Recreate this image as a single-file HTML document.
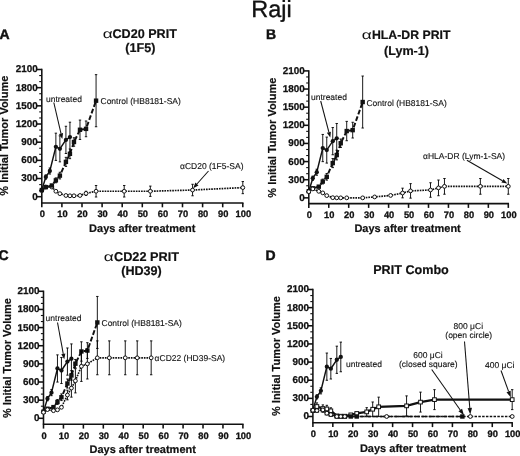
<!DOCTYPE html>
<html lang="en">
<head>
<meta charset="utf-8">
<title>Raji</title>
<style>
html,body{margin:0;padding:0;background:#fff;}
body{width:520px;height:456px;overflow:hidden;font-family:"Liberation Sans", sans-serif;}
svg{display:block;will-change:transform;transform:translateZ(0);}
text{font-family:"Liberation Sans", sans-serif;fill:#111;}
.ax{stroke:#111;stroke-width:1.55;fill:none;}
.mt{stroke:#111;stroke-width:1.1;fill:none;}
.eb{stroke:#000;stroke-width:0.9;fill:none;}
.tk{font-size:9.9px;font-weight:bold;stroke:#111;stroke-width:0.25px;}
.tkx{font-size:9.3px;font-weight:bold;stroke:#111;stroke-width:0.3px;}
.al{font-size:11px;font-weight:bold;stroke:#111;stroke-width:0.2px;}
.an{font-size:8.5px;stroke:#111;stroke-width:0.12px;}
.tt{font-size:12.6px;font-weight:bold;stroke:#111;stroke-width:0.2px;}
.ta{font-size:12.6px;}
.pl{font-size:14px;font-weight:bold;stroke:#111;stroke-width:0.45px;}
.main{font-size:23.5px;stroke:#111;stroke-width:0.35px;}
</style>
</head>
<body>
<svg width="520" height="456" viewBox="0 0 520 456">
<rect width="520" height="456" fill="#fff"/>
<path d="M41.8 68.8V203" class="ax"/>
<path d="M36.6 196.7H41.8" class="ax"/>
<text transform="translate(37.8 199.65) skewX(0.05)" class="tk" text-anchor="end">0</text>
<path d="M39.2 190.64H41.8" class="mt"/>
<path d="M39.2 184.59H41.8" class="mt"/>
<path d="M36.6 178.53H41.8" class="ax"/>
<text transform="translate(37.8 181.48) skewX(0.05)" class="tk" text-anchor="end">300</text>
<path d="M39.2 172.47H41.8" class="mt"/>
<path d="M39.2 166.41H41.8" class="mt"/>
<path d="M36.6 160.36H41.8" class="ax"/>
<text transform="translate(37.8 163.31) skewX(0.05)" class="tk" text-anchor="end">600</text>
<path d="M39.2 154.3H41.8" class="mt"/>
<path d="M39.2 148.24H41.8" class="mt"/>
<path d="M36.6 142.19H41.8" class="ax"/>
<text transform="translate(37.8 145.14) skewX(0.05)" class="tk" text-anchor="end">900</text>
<path d="M39.2 136.13H41.8" class="mt"/>
<path d="M39.2 130.07H41.8" class="mt"/>
<path d="M36.6 124.01H41.8" class="ax"/>
<text transform="translate(37.8 126.96) skewX(0.05)" class="tk" text-anchor="end">1200</text>
<path d="M39.2 117.96H41.8" class="mt"/>
<path d="M39.2 111.9H41.8" class="mt"/>
<path d="M36.6 105.84H41.8" class="ax"/>
<text transform="translate(37.8 108.79) skewX(0.05)" class="tk" text-anchor="end">1500</text>
<path d="M39.2 99.79H41.8" class="mt"/>
<path d="M39.2 93.73H41.8" class="mt"/>
<path d="M36.6 87.67H41.8" class="ax"/>
<text transform="translate(37.8 90.62) skewX(0.05)" class="tk" text-anchor="end">1800</text>
<path d="M39.2 81.61H41.8" class="mt"/>
<path d="M39.2 75.56H41.8" class="mt"/>
<path d="M36.6 69.5H41.8" class="ax"/>
<text transform="translate(37.8 72.45) skewX(0.05)" class="tk" text-anchor="end">2100</text>
<path d="M41.1 203H243.5" class="ax"/>
<path d="M41.8 203V207.3" class="ax"/>
<text transform="translate(42.3 216.8) skewX(0.05)" class="tkx" text-anchor="middle">0</text>
<path d="M61.9 203V207.3" class="ax"/>
<text transform="translate(62.4 216.8) skewX(0.05)" class="tkx" text-anchor="middle">10</text>
<path d="M82 203V207.3" class="ax"/>
<text transform="translate(82.5 216.8) skewX(0.05)" class="tkx" text-anchor="middle">20</text>
<path d="M102.1 203V207.3" class="ax"/>
<text transform="translate(102.6 216.8) skewX(0.05)" class="tkx" text-anchor="middle">30</text>
<path d="M122.2 203V207.3" class="ax"/>
<text transform="translate(122.7 216.8) skewX(0.05)" class="tkx" text-anchor="middle">40</text>
<path d="M142.3 203V207.3" class="ax"/>
<text transform="translate(142.8 216.8) skewX(0.05)" class="tkx" text-anchor="middle">50</text>
<path d="M162.4 203V207.3" class="ax"/>
<text transform="translate(162.9 216.8) skewX(0.05)" class="tkx" text-anchor="middle">60</text>
<path d="M182.5 203V207.3" class="ax"/>
<text transform="translate(183 216.8) skewX(0.05)" class="tkx" text-anchor="middle">70</text>
<path d="M202.6 203V207.3" class="ax"/>
<text transform="translate(203.1 216.8) skewX(0.05)" class="tkx" text-anchor="middle">80</text>
<path d="M222.7 203V207.3" class="ax"/>
<text transform="translate(223.2 216.8) skewX(0.05)" class="tkx" text-anchor="middle">90</text>
<path d="M242.8 203V207.3" class="ax"/>
<text transform="translate(243.3 216.8) skewX(0.05)" class="tkx" text-anchor="middle">100</text>
<text transform="translate(142.3 231.5) skewX(0.05)" class="al" text-anchor="middle">Days after treatment</text>
<text transform="translate(8.2 135.7) rotate(-90)" class="al" text-anchor="middle">% Initial Tumor Volume</text>
<path d="M41.8 190.64L45.82 187.01L51.85 187.01L55.87 191.25L59.89 193.67L65.92 195.49L69.94 195.79L73.96 195.79L79.99 195.49L86.02 193.37L96.07 191.25L124.21 191.25L150.34 191.25L192.55 190.04L242.8 187.61" fill="none" stroke="#111" stroke-width="1.65" stroke-dasharray="1.65 0.95"/>
<path d="M86.02 191.25V195.49M84.82 191.25h2.4M84.82 195.49h2.4" class="eb"/>
<path d="M96.07 185.49V197M94.87 185.49h2.4M94.87 197h2.4" class="eb"/>
<path d="M124.21 185.49V197M123.01 185.49h2.4M123.01 197h2.4" class="eb"/>
<path d="M150.34 186.1V196.4M149.14 186.1h2.4M149.14 196.4h2.4" class="eb"/>
<path d="M192.55 184.28V195.79M191.35 184.28h2.4M191.35 195.79h2.4" class="eb"/>
<path d="M242.8 181.56V193.67M241.6 181.56h2.4M241.6 193.67h2.4" class="eb"/>
<circle cx="41.8" cy="190.64" r="1.9" fill="#fff" stroke="#111" stroke-width="1.0"/>
<circle cx="45.82" cy="187.01" r="1.9" fill="#fff" stroke="#111" stroke-width="1.0"/>
<circle cx="51.85" cy="187.01" r="1.9" fill="#fff" stroke="#111" stroke-width="1.0"/>
<circle cx="55.87" cy="191.25" r="1.9" fill="#fff" stroke="#111" stroke-width="1.0"/>
<circle cx="59.89" cy="193.67" r="1.9" fill="#fff" stroke="#111" stroke-width="1.0"/>
<circle cx="65.92" cy="195.49" r="1.9" fill="#fff" stroke="#111" stroke-width="1.0"/>
<circle cx="69.94" cy="195.79" r="1.9" fill="#fff" stroke="#111" stroke-width="1.0"/>
<circle cx="73.96" cy="195.79" r="1.9" fill="#fff" stroke="#111" stroke-width="1.0"/>
<circle cx="79.99" cy="195.49" r="1.9" fill="#fff" stroke="#111" stroke-width="1.0"/>
<circle cx="86.02" cy="193.37" r="1.9" fill="#fff" stroke="#111" stroke-width="1.0"/>
<circle cx="96.07" cy="191.25" r="1.9" fill="#fff" stroke="#111" stroke-width="1.0"/>
<circle cx="124.21" cy="191.25" r="1.9" fill="#fff" stroke="#111" stroke-width="1.0"/>
<circle cx="150.34" cy="191.25" r="1.9" fill="#fff" stroke="#111" stroke-width="1.0"/>
<circle cx="192.55" cy="190.04" r="1.9" fill="#fff" stroke="#111" stroke-width="1.0"/>
<circle cx="242.8" cy="187.61" r="1.9" fill="#fff" stroke="#111" stroke-width="1.0"/>
<path d="M41.8 190.04L45.82 187.13L51.85 185.49L55.87 180.35L59.89 175.62L65.92 161.87L69.94 153.82L73.96 142L79.99 129.77L86.02 128.86L96.07 100.69" fill="none" stroke="#111" stroke-width="1.95" stroke-dasharray="4.8 2.1"/>
<path d="M55.87 177.92V182.77M54.67 177.92h2.4M54.67 182.77h2.4" class="eb"/>
<path d="M59.89 172.29V178.95M58.69 172.29h2.4M58.69 178.95h2.4" class="eb"/>
<path d="M65.92 157.33V166.41M64.72 157.33h2.4M64.72 166.41h2.4" class="eb"/>
<path d="M69.94 148.97V158.66M68.74 148.97h2.4M68.74 158.66h2.4" class="eb"/>
<path d="M73.96 137.76V146.24M72.76 137.76h2.4M72.76 146.24h2.4" class="eb"/>
<path d="M79.99 120.08V139.46M78.79 120.08h2.4M78.79 139.46h2.4" class="eb"/>
<path d="M86.02 120.99V136.73M84.82 120.99h2.4M84.82 136.73h2.4" class="eb"/>
<path d="M96.07 74.65V126.74M94.87 74.65h2.4M94.87 126.74h2.4" class="eb"/>
<rect x="39.6" y="187.84" width="4.4" height="4.4" fill="#111"/>
<rect x="43.62" y="184.93" width="4.4" height="4.4" fill="#111"/>
<rect x="49.65" y="183.29" width="4.4" height="4.4" fill="#111"/>
<rect x="53.67" y="178.15" width="4.4" height="4.4" fill="#111"/>
<rect x="57.69" y="173.42" width="4.4" height="4.4" fill="#111"/>
<rect x="63.72" y="159.67" width="4.4" height="4.4" fill="#111"/>
<rect x="67.74" y="151.62" width="4.4" height="4.4" fill="#111"/>
<rect x="71.76" y="139.8" width="4.4" height="4.4" fill="#111"/>
<rect x="77.79" y="127.57" width="4.4" height="4.4" fill="#111"/>
<rect x="83.82" y="126.66" width="4.4" height="4.4" fill="#111"/>
<rect x="93.87" y="98.49" width="4.4" height="4.4" fill="#111"/>
<path d="M41.8 190.04L45.82 177.01L49.84 171.02L55.87 146.79L59.89 148.85L65.92 139.88L69.94 137.04" fill="none" stroke="#111" stroke-width="1.45"/>
<path d="M45.82 174.89V179.13M44.62 174.89h2.4M44.62 179.13h2.4" class="eb"/>
<path d="M49.84 167.99V174.05M48.64 167.99h2.4M48.64 174.05h2.4" class="eb"/>
<path d="M55.87 133.16V160.42M54.67 133.16h2.4M54.67 160.42h2.4" class="eb"/>
<path d="M59.89 135.83V161.87M58.69 135.83h2.4M58.69 161.87h2.4" class="eb"/>
<path d="M65.92 126.26V153.51M64.72 126.26h2.4M64.72 153.51h2.4" class="eb"/>
<path d="M69.94 122.2V151.88M68.74 122.2h2.4M68.74 151.88h2.4" class="eb"/>
<circle cx="41.8" cy="190.04" r="2.15" fill="#111"/>
<circle cx="45.82" cy="177.01" r="2.15" fill="#111"/>
<circle cx="49.84" cy="171.02" r="2.15" fill="#111"/>
<circle cx="55.87" cy="146.79" r="2.15" fill="#111"/>
<circle cx="59.89" cy="148.85" r="2.15" fill="#111"/>
<circle cx="65.92" cy="139.88" r="2.15" fill="#111"/>
<circle cx="69.94" cy="137.04" r="2.15" fill="#111"/>
<text transform="translate(46 101.5) skewX(0.05)" class="an">untreated</text>
<text transform="translate(100.5 103.5) skewX(0.05)" class="an">Control (HB8181-SA)</text>
<text transform="translate(180 168.5) skewX(0.05)" class="an">αCD20 (1F5-SA)</text>
<path d="M53.8 102.5L61.03 133.55" stroke="#111" stroke-width="1.05" fill="none"/>
<path d="M62.3 139L58.98 134.02L63.08 133.07Z" fill="#111"/>
<path d="M208.5 171L196.92 184.02" stroke="#111" stroke-width="1.05" fill="none"/>
<path d="M193.2 188.2L195.35 182.62L198.49 185.41Z" fill="#111"/>
<path d="M308.8 70.2V203.6" class="ax"/>
<path d="M303.6 197.85H308.8" class="ax"/>
<text transform="translate(304.8 200.8) skewX(0.05)" class="tk" text-anchor="end">0</text>
<path d="M306.2 191.8H308.8" class="mt"/>
<path d="M306.2 185.76H308.8" class="mt"/>
<path d="M303.6 179.71H308.8" class="ax"/>
<text transform="translate(304.8 182.66) skewX(0.05)" class="tk" text-anchor="end">300</text>
<path d="M306.2 173.67H308.8" class="mt"/>
<path d="M306.2 167.62H308.8" class="mt"/>
<path d="M303.6 161.58H308.8" class="ax"/>
<text transform="translate(304.8 164.53) skewX(0.05)" class="tk" text-anchor="end">600</text>
<path d="M306.2 155.53H308.8" class="mt"/>
<path d="M306.2 149.49H308.8" class="mt"/>
<path d="M303.6 143.44H308.8" class="ax"/>
<text transform="translate(304.8 146.39) skewX(0.05)" class="tk" text-anchor="end">900</text>
<path d="M306.2 137.4H308.8" class="mt"/>
<path d="M306.2 131.35H308.8" class="mt"/>
<path d="M303.6 125.31H308.8" class="ax"/>
<text transform="translate(304.8 128.26) skewX(0.05)" class="tk" text-anchor="end">1200</text>
<path d="M306.2 119.26H308.8" class="mt"/>
<path d="M306.2 113.22H308.8" class="mt"/>
<path d="M303.6 107.17H308.8" class="ax"/>
<text transform="translate(304.8 110.12) skewX(0.05)" class="tk" text-anchor="end">1500</text>
<path d="M306.2 101.13H308.8" class="mt"/>
<path d="M306.2 95.08H308.8" class="mt"/>
<path d="M303.6 89.04H308.8" class="ax"/>
<text transform="translate(304.8 91.99) skewX(0.05)" class="tk" text-anchor="end">1800</text>
<path d="M306.2 82.99H308.8" class="mt"/>
<path d="M306.2 76.95H308.8" class="mt"/>
<path d="M303.6 70.9H308.8" class="ax"/>
<text transform="translate(304.8 73.85) skewX(0.05)" class="tk" text-anchor="end">2100</text>
<path d="M308.1 203.6H509" class="ax"/>
<path d="M308.8 203.6V207.9" class="ax"/>
<text transform="translate(309.3 217.9) skewX(0.05)" class="tkx" text-anchor="middle">0</text>
<path d="M328.75 203.6V207.9" class="ax"/>
<text transform="translate(329.25 217.9) skewX(0.05)" class="tkx" text-anchor="middle">10</text>
<path d="M348.7 203.6V207.9" class="ax"/>
<text transform="translate(349.2 217.9) skewX(0.05)" class="tkx" text-anchor="middle">20</text>
<path d="M368.65 203.6V207.9" class="ax"/>
<text transform="translate(369.15 217.9) skewX(0.05)" class="tkx" text-anchor="middle">30</text>
<path d="M388.6 203.6V207.9" class="ax"/>
<text transform="translate(389.1 217.9) skewX(0.05)" class="tkx" text-anchor="middle">40</text>
<path d="M408.55 203.6V207.9" class="ax"/>
<text transform="translate(409.05 217.9) skewX(0.05)" class="tkx" text-anchor="middle">50</text>
<path d="M428.5 203.6V207.9" class="ax"/>
<text transform="translate(429 217.9) skewX(0.05)" class="tkx" text-anchor="middle">60</text>
<path d="M448.45 203.6V207.9" class="ax"/>
<text transform="translate(448.95 217.9) skewX(0.05)" class="tkx" text-anchor="middle">70</text>
<path d="M468.4 203.6V207.9" class="ax"/>
<text transform="translate(468.9 217.9) skewX(0.05)" class="tkx" text-anchor="middle">80</text>
<path d="M488.35 203.6V207.9" class="ax"/>
<text transform="translate(488.85 217.9) skewX(0.05)" class="tkx" text-anchor="middle">90</text>
<path d="M508.3 203.6V207.9" class="ax"/>
<text transform="translate(508.8 217.9) skewX(0.05)" class="tkx" text-anchor="middle">100</text>
<text transform="translate(407.6 232.3) skewX(0.05)" class="al" text-anchor="middle">Days after treatment</text>
<text transform="translate(276.1 137.7) rotate(-90)" class="al" text-anchor="middle">% Initial Tumor Volume</text>
<path d="M308.8 191.2L312.79 188.3L318.78 186.67L322.76 181.53L326.75 176.81L332.74 163.09L336.73 155.05L340.72 143.26L346.71 131.05L352.69 130.14L362.67 102.03" fill="none" stroke="#111" stroke-width="1.95" stroke-dasharray="4.8 2.1"/>
<path d="M322.76 179.11V183.95M321.56 179.11h2.4M321.56 183.95h2.4" class="eb"/>
<path d="M326.75 173.49V180.14M325.56 173.49h2.4M325.56 180.14h2.4" class="eb"/>
<path d="M332.74 158.56V167.62M331.54 158.56h2.4M331.54 167.62h2.4" class="eb"/>
<path d="M336.73 150.21V159.89M335.53 150.21h2.4M335.53 159.89h2.4" class="eb"/>
<path d="M340.72 139.03V147.49M339.52 139.03h2.4M339.52 147.49h2.4" class="eb"/>
<path d="M346.71 121.38V140.72M345.51 121.38h2.4M345.51 140.72h2.4" class="eb"/>
<path d="M352.69 122.28V138M351.49 122.28h2.4M351.49 138h2.4" class="eb"/>
<path d="M362.67 76.04V128.03M361.47 76.04h2.4M361.47 128.03h2.4" class="eb"/>
<rect x="306.6" y="189" width="4.4" height="4.4" fill="#111"/>
<rect x="310.59" y="186.1" width="4.4" height="4.4" fill="#111"/>
<rect x="316.58" y="184.47" width="4.4" height="4.4" fill="#111"/>
<rect x="320.56" y="179.33" width="4.4" height="4.4" fill="#111"/>
<rect x="324.56" y="174.61" width="4.4" height="4.4" fill="#111"/>
<rect x="330.54" y="160.89" width="4.4" height="4.4" fill="#111"/>
<rect x="334.53" y="152.85" width="4.4" height="4.4" fill="#111"/>
<rect x="338.52" y="141.06" width="4.4" height="4.4" fill="#111"/>
<rect x="344.51" y="128.85" width="4.4" height="4.4" fill="#111"/>
<rect x="350.49" y="127.94" width="4.4" height="4.4" fill="#111"/>
<rect x="360.47" y="99.83" width="4.4" height="4.4" fill="#111"/>
<path d="M308.8 191.2L312.79 178.2L316.78 172.22L322.76 148.04L326.75 150.09L332.74 141.15L336.73 138.3" fill="none" stroke="#111" stroke-width="1.45"/>
<path d="M312.79 176.09V180.32M311.59 176.09h2.4M311.59 180.32h2.4" class="eb"/>
<path d="M316.78 169.2V175.24M315.58 169.2h2.4M315.58 175.24h2.4" class="eb"/>
<path d="M322.76 134.44V161.64M321.56 134.44h2.4M321.56 161.64h2.4" class="eb"/>
<path d="M326.75 137.1V163.09M325.56 137.1h2.4M325.56 163.09h2.4" class="eb"/>
<path d="M332.74 127.54V154.75M331.54 127.54h2.4M331.54 154.75h2.4" class="eb"/>
<path d="M336.73 123.49V153.12M335.53 123.49h2.4M335.53 153.12h2.4" class="eb"/>
<circle cx="308.8" cy="191.2" r="2.15" fill="#111"/>
<circle cx="312.79" cy="178.2" r="2.15" fill="#111"/>
<circle cx="316.78" cy="172.22" r="2.15" fill="#111"/>
<circle cx="322.76" cy="148.04" r="2.15" fill="#111"/>
<circle cx="326.75" cy="150.09" r="2.15" fill="#111"/>
<circle cx="332.74" cy="141.15" r="2.15" fill="#111"/>
<circle cx="336.73" cy="138.3" r="2.15" fill="#111"/>
<path d="M308.8 191.68L312.79 188.9L318.78 191.32L322.76 192.89L326.75 195.61L332.74 197.67L336.73 197.85L340.72 197.85L346.71 197.85L362.67 197.85L374.63 196.94L390.6 195.43L402.56 193.01L410.55 190.9L430.5 189.99L438.48 187.88L444.46 186.36L480.37 186.36L508.3 186.36" fill="none" stroke="#111" stroke-width="1.65" stroke-dasharray="1.65 0.95"/>
<path d="M402.56 188.18V197.85M401.37 188.18h2.4M401.37 197.85h2.4" class="eb"/>
<path d="M410.55 183.64V198.15M409.35 183.64h2.4M409.35 198.15h2.4" class="eb"/>
<path d="M430.5 182.74V197.25M429.3 182.74h2.4M429.3 197.25h2.4" class="eb"/>
<path d="M438.48 180.02V195.73M437.28 180.02h2.4M437.28 195.73h2.4" class="eb"/>
<path d="M444.46 178.51V194.22M443.26 178.51h2.4M443.26 194.22h2.4" class="eb"/>
<path d="M480.37 178.51V194.22M479.17 178.51h2.4M479.17 194.22h2.4" class="eb"/>
<path d="M508.3 178.51V194.22M507.1 178.51h2.4M507.1 194.22h2.4" class="eb"/>
<circle cx="308.8" cy="191.68" r="1.9" fill="#fff" stroke="#111" stroke-width="1.0"/>
<circle cx="312.79" cy="188.9" r="1.9" fill="#fff" stroke="#111" stroke-width="1.0"/>
<circle cx="318.78" cy="191.32" r="1.9" fill="#fff" stroke="#111" stroke-width="1.0"/>
<circle cx="322.76" cy="192.89" r="1.9" fill="#fff" stroke="#111" stroke-width="1.0"/>
<circle cx="326.75" cy="195.61" r="1.9" fill="#fff" stroke="#111" stroke-width="1.0"/>
<circle cx="332.74" cy="197.67" r="1.9" fill="#fff" stroke="#111" stroke-width="1.0"/>
<circle cx="336.73" cy="197.85" r="1.9" fill="#fff" stroke="#111" stroke-width="1.0"/>
<circle cx="340.72" cy="197.85" r="1.9" fill="#fff" stroke="#111" stroke-width="1.0"/>
<circle cx="346.71" cy="197.85" r="1.9" fill="#fff" stroke="#111" stroke-width="1.0"/>
<circle cx="362.67" cy="197.85" r="1.9" fill="#fff" stroke="#111" stroke-width="1.0"/>
<circle cx="374.63" cy="196.94" r="1.9" fill="#fff" stroke="#111" stroke-width="1.0"/>
<circle cx="390.6" cy="195.43" r="1.9" fill="#fff" stroke="#111" stroke-width="1.0"/>
<circle cx="402.56" cy="193.01" r="1.9" fill="#fff" stroke="#111" stroke-width="1.0"/>
<circle cx="410.55" cy="190.9" r="1.9" fill="#fff" stroke="#111" stroke-width="1.0"/>
<circle cx="430.5" cy="189.99" r="1.9" fill="#fff" stroke="#111" stroke-width="1.0"/>
<circle cx="438.48" cy="187.88" r="1.9" fill="#fff" stroke="#111" stroke-width="1.0"/>
<circle cx="444.46" cy="186.36" r="1.9" fill="#fff" stroke="#111" stroke-width="1.0"/>
<circle cx="480.37" cy="186.36" r="1.9" fill="#fff" stroke="#111" stroke-width="1.0"/>
<circle cx="508.3" cy="186.36" r="1.9" fill="#fff" stroke="#111" stroke-width="1.0"/>
<text transform="translate(311 100) skewX(0.05)" class="an">untreated</text>
<text transform="translate(366.4 105.6) skewX(0.05)" class="an">Control (HB8181-SA)</text>
<text transform="translate(423 158.5) skewX(0.05)" class="an">αHLA-DR (Lym-1-SA)</text>
<path d="M320.7 101L328.88 132.18" stroke="#111" stroke-width="1.05" fill="none"/>
<path d="M330.3 137.6L326.85 132.72L330.91 131.65Z" fill="#111"/>
<path d="M466.9 160.3L502.45 180.8" stroke="#111" stroke-width="1.05" fill="none"/>
<path d="M507.3 183.6L501.4 182.62L503.5 178.98Z" fill="#111"/>
<path d="M43.5 290.6V424.3" class="ax"/>
<path d="M38.3 418.3H43.5" class="ax"/>
<text transform="translate(39.5 421.25) skewX(0.05)" class="tk" text-anchor="end">0</text>
<path d="M40.9 412.25H43.5" class="mt"/>
<path d="M40.9 406.2H43.5" class="mt"/>
<path d="M38.3 400.16H43.5" class="ax"/>
<text transform="translate(39.5 403.11) skewX(0.05)" class="tk" text-anchor="end">300</text>
<path d="M40.9 394.11H43.5" class="mt"/>
<path d="M40.9 388.06H43.5" class="mt"/>
<path d="M38.3 382.01H43.5" class="ax"/>
<text transform="translate(39.5 384.96) skewX(0.05)" class="tk" text-anchor="end">600</text>
<path d="M40.9 375.97H43.5" class="mt"/>
<path d="M40.9 369.92H43.5" class="mt"/>
<path d="M38.3 363.87H43.5" class="ax"/>
<text transform="translate(39.5 366.82) skewX(0.05)" class="tk" text-anchor="end">900</text>
<path d="M40.9 357.82H43.5" class="mt"/>
<path d="M40.9 351.78H43.5" class="mt"/>
<path d="M38.3 345.73H43.5" class="ax"/>
<text transform="translate(39.5 348.68) skewX(0.05)" class="tk" text-anchor="end">1200</text>
<path d="M40.9 339.68H43.5" class="mt"/>
<path d="M40.9 333.63H43.5" class="mt"/>
<path d="M38.3 327.59H43.5" class="ax"/>
<text transform="translate(39.5 330.54) skewX(0.05)" class="tk" text-anchor="end">1500</text>
<path d="M40.9 321.54H43.5" class="mt"/>
<path d="M40.9 315.49H43.5" class="mt"/>
<path d="M38.3 309.44H43.5" class="ax"/>
<text transform="translate(39.5 312.39) skewX(0.05)" class="tk" text-anchor="end">1800</text>
<path d="M40.9 303.4H43.5" class="mt"/>
<path d="M40.9 297.35H43.5" class="mt"/>
<path d="M38.3 291.3H43.5" class="ax"/>
<text transform="translate(39.5 294.25) skewX(0.05)" class="tk" text-anchor="end">2100</text>
<path d="M42.8 424.3H243.6" class="ax"/>
<path d="M43.5 424.3V428.6" class="ax"/>
<text transform="translate(44 438.65) skewX(0.05)" class="tkx" text-anchor="middle">0</text>
<path d="M63.44 424.3V428.6" class="ax"/>
<text transform="translate(63.94 438.65) skewX(0.05)" class="tkx" text-anchor="middle">10</text>
<path d="M83.38 424.3V428.6" class="ax"/>
<text transform="translate(83.88 438.65) skewX(0.05)" class="tkx" text-anchor="middle">20</text>
<path d="M103.32 424.3V428.6" class="ax"/>
<text transform="translate(103.82 438.65) skewX(0.05)" class="tkx" text-anchor="middle">30</text>
<path d="M123.26 424.3V428.6" class="ax"/>
<text transform="translate(123.76 438.65) skewX(0.05)" class="tkx" text-anchor="middle">40</text>
<path d="M143.2 424.3V428.6" class="ax"/>
<text transform="translate(143.7 438.65) skewX(0.05)" class="tkx" text-anchor="middle">50</text>
<path d="M163.14 424.3V428.6" class="ax"/>
<text transform="translate(163.64 438.65) skewX(0.05)" class="tkx" text-anchor="middle">60</text>
<path d="M183.08 424.3V428.6" class="ax"/>
<text transform="translate(183.58 438.65) skewX(0.05)" class="tkx" text-anchor="middle">70</text>
<path d="M203.02 424.3V428.6" class="ax"/>
<text transform="translate(203.52 438.65) skewX(0.05)" class="tkx" text-anchor="middle">80</text>
<path d="M222.96 424.3V428.6" class="ax"/>
<text transform="translate(223.46 438.65) skewX(0.05)" class="tkx" text-anchor="middle">90</text>
<path d="M242.9 424.3V428.6" class="ax"/>
<text transform="translate(243.4 438.65) skewX(0.05)" class="tkx" text-anchor="middle">100</text>
<text transform="translate(142.7 452.9) skewX(0.05)" class="al" text-anchor="middle">Days after treatment</text>
<text transform="translate(10.6 358.1) rotate(-90)" class="al" text-anchor="middle">% Initial Tumor Volume</text>
<path d="M43.5 411.65L47.49 408.74L53.47 407.11L57.46 401.97L61.45 397.25L67.43 383.53L71.42 375.48L75.4 363.69L81.39 351.47L87.37 350.57L97.34 322.45" fill="none" stroke="#111" stroke-width="1.95" stroke-dasharray="4.8 2.1"/>
<path d="M57.46 399.55V404.39M56.26 399.55h2.4M56.26 404.39h2.4" class="eb"/>
<path d="M61.45 393.93V400.58M60.25 393.93h2.4M60.25 400.58h2.4" class="eb"/>
<path d="M67.43 378.99V388.06M66.23 378.99h2.4M66.23 388.06h2.4" class="eb"/>
<path d="M71.42 370.64V380.32M70.22 370.64h2.4M70.22 380.32h2.4" class="eb"/>
<path d="M75.4 359.46V367.92M74.2 359.46h2.4M74.2 367.92h2.4" class="eb"/>
<path d="M81.39 341.8V361.15M80.19 341.8h2.4M80.19 361.15h2.4" class="eb"/>
<path d="M87.37 342.7V358.43M86.17 342.7h2.4M86.17 358.43h2.4" class="eb"/>
<path d="M97.34 296.44V348.45M96.14 296.44h2.4M96.14 348.45h2.4" class="eb"/>
<rect x="41.3" y="409.45" width="4.4" height="4.4" fill="#111"/>
<rect x="45.29" y="406.54" width="4.4" height="4.4" fill="#111"/>
<rect x="51.27" y="404.91" width="4.4" height="4.4" fill="#111"/>
<rect x="55.26" y="399.77" width="4.4" height="4.4" fill="#111"/>
<rect x="59.25" y="395.05" width="4.4" height="4.4" fill="#111"/>
<rect x="65.23" y="381.33" width="4.4" height="4.4" fill="#111"/>
<rect x="69.22" y="373.28" width="4.4" height="4.4" fill="#111"/>
<rect x="73.2" y="361.49" width="4.4" height="4.4" fill="#111"/>
<rect x="79.19" y="349.27" width="4.4" height="4.4" fill="#111"/>
<rect x="85.17" y="348.37" width="4.4" height="4.4" fill="#111"/>
<rect x="95.14" y="320.25" width="4.4" height="4.4" fill="#111"/>
<path d="M43.5 411.65L47.49 398.65L51.48 392.66L57.46 368.47L61.45 370.52L67.43 361.57L71.42 358.73" fill="none" stroke="#111" stroke-width="1.45"/>
<path d="M47.49 396.53V400.76M46.29 396.53h2.4M46.29 400.76h2.4" class="eb"/>
<path d="M51.48 389.63V395.68M50.28 389.63h2.4M50.28 395.68h2.4" class="eb"/>
<path d="M57.46 354.86V382.07M56.26 354.86h2.4M56.26 382.07h2.4" class="eb"/>
<path d="M61.45 357.52V383.53M60.25 357.52h2.4M60.25 383.53h2.4" class="eb"/>
<path d="M67.43 347.97V375.18M66.23 347.97h2.4M66.23 375.18h2.4" class="eb"/>
<path d="M71.42 343.91V373.55M70.22 343.91h2.4M70.22 373.55h2.4" class="eb"/>
<circle cx="43.5" cy="411.65" r="2.15" fill="#111"/>
<circle cx="47.49" cy="398.65" r="2.15" fill="#111"/>
<circle cx="51.48" cy="392.66" r="2.15" fill="#111"/>
<circle cx="57.46" cy="368.47" r="2.15" fill="#111"/>
<circle cx="61.45" cy="370.52" r="2.15" fill="#111"/>
<circle cx="67.43" cy="361.57" r="2.15" fill="#111"/>
<circle cx="71.42" cy="358.73" r="2.15" fill="#111"/>
<path d="M43.5 412.31L47.49 409.59L53.47 410.68L57.46 409.83L61.45 407.29L67.43 395.02L71.42 388.06L75.4 380.8L81.39 366.29L87.37 363.87L97.34 357.82L109.3 357.82L125.25 357.82L137.22 357.82L151.18 357.82" fill="none" stroke="#111" stroke-width="1.65" stroke-dasharray="1.65 0.95"/>
<path d="M67.43 390.18V399.85M66.23 390.18h2.4M66.23 399.85h2.4" class="eb"/>
<path d="M71.42 378.99V397.13M70.22 378.99h2.4M70.22 397.13h2.4" class="eb"/>
<path d="M75.4 368.71V392.9M74.2 368.71h2.4M74.2 392.9h2.4" class="eb"/>
<path d="M81.39 351.17V381.41M80.19 351.17h2.4M80.19 381.41h2.4" class="eb"/>
<path d="M87.37 348.75V378.99M86.17 348.75h2.4M86.17 378.99h2.4" class="eb"/>
<path d="M97.34 340.89V374.76M96.14 340.89h2.4M96.14 374.76h2.4" class="eb"/>
<path d="M109.3 340.89V374.76M108.1 340.89h2.4M108.1 374.76h2.4" class="eb"/>
<path d="M125.25 340.89V374.76M124.05 340.89h2.4M124.05 374.76h2.4" class="eb"/>
<path d="M137.22 340.89V374.76M136.02 340.89h2.4M136.02 374.76h2.4" class="eb"/>
<path d="M151.18 340.89V374.76M149.98 340.89h2.4M149.98 374.76h2.4" class="eb"/>
<circle cx="43.5" cy="412.31" r="1.9" fill="#fff" stroke="#111" stroke-width="1.0"/>
<circle cx="47.49" cy="409.59" r="1.9" fill="#fff" stroke="#111" stroke-width="1.0"/>
<circle cx="53.47" cy="410.68" r="1.9" fill="#fff" stroke="#111" stroke-width="1.0"/>
<circle cx="57.46" cy="409.83" r="1.9" fill="#fff" stroke="#111" stroke-width="1.0"/>
<circle cx="61.45" cy="407.29" r="1.9" fill="#fff" stroke="#111" stroke-width="1.0"/>
<circle cx="67.43" cy="395.02" r="1.9" fill="#fff" stroke="#111" stroke-width="1.0"/>
<circle cx="71.42" cy="388.06" r="1.9" fill="#fff" stroke="#111" stroke-width="1.0"/>
<circle cx="75.4" cy="380.8" r="1.9" fill="#fff" stroke="#111" stroke-width="1.0"/>
<circle cx="81.39" cy="366.29" r="1.9" fill="#fff" stroke="#111" stroke-width="1.0"/>
<circle cx="87.37" cy="363.87" r="1.9" fill="#fff" stroke="#111" stroke-width="1.0"/>
<circle cx="97.34" cy="357.82" r="1.9" fill="#fff" stroke="#111" stroke-width="1.0"/>
<circle cx="109.3" cy="357.82" r="1.9" fill="#fff" stroke="#111" stroke-width="1.0"/>
<circle cx="125.25" cy="357.82" r="1.9" fill="#fff" stroke="#111" stroke-width="1.0"/>
<circle cx="137.22" cy="357.82" r="1.9" fill="#fff" stroke="#111" stroke-width="1.0"/>
<circle cx="151.18" cy="357.82" r="1.9" fill="#fff" stroke="#111" stroke-width="1.0"/>
<text transform="translate(45.6 321.1) skewX(0.05)" class="an">untreated</text>
<text transform="translate(101.5 325.5) skewX(0.05)" class="an">Control (HB8181-SA)</text>
<text transform="translate(154.6 360.5) skewX(0.05)" class="an">αCD22 (HD39-SA)</text>
<path d="M57.5 322.5L63.28 353.79" stroke="#111" stroke-width="1.05" fill="none"/>
<path d="M64.3 359.3L61.22 354.17L65.35 353.41Z" fill="#111"/>
<path d="M312.9 288.8V422.8" class="ax"/>
<path d="M307.7 416.5H312.9" class="ax"/>
<text transform="translate(308.9 419.45) skewX(0.05)" class="tk" text-anchor="end">0</text>
<path d="M310.3 410.45H312.9" class="mt"/>
<path d="M310.3 404.4H312.9" class="mt"/>
<path d="M307.7 398.36H312.9" class="ax"/>
<text transform="translate(308.9 401.31) skewX(0.05)" class="tk" text-anchor="end">300</text>
<path d="M310.3 392.31H312.9" class="mt"/>
<path d="M310.3 386.26H312.9" class="mt"/>
<path d="M307.7 380.21H312.9" class="ax"/>
<text transform="translate(308.9 383.16) skewX(0.05)" class="tk" text-anchor="end">600</text>
<path d="M310.3 374.17H312.9" class="mt"/>
<path d="M310.3 368.12H312.9" class="mt"/>
<path d="M307.7 362.07H312.9" class="ax"/>
<text transform="translate(308.9 365.02) skewX(0.05)" class="tk" text-anchor="end">900</text>
<path d="M310.3 356.02H312.9" class="mt"/>
<path d="M310.3 349.98H312.9" class="mt"/>
<path d="M307.7 343.93H312.9" class="ax"/>
<text transform="translate(308.9 346.88) skewX(0.05)" class="tk" text-anchor="end">1200</text>
<path d="M310.3 337.88H312.9" class="mt"/>
<path d="M310.3 331.83H312.9" class="mt"/>
<path d="M307.7 325.79H312.9" class="ax"/>
<text transform="translate(308.9 328.74) skewX(0.05)" class="tk" text-anchor="end">1500</text>
<path d="M310.3 319.74H312.9" class="mt"/>
<path d="M310.3 313.69H312.9" class="mt"/>
<path d="M307.7 307.64H312.9" class="ax"/>
<text transform="translate(308.9 310.59) skewX(0.05)" class="tk" text-anchor="end">1800</text>
<path d="M310.3 301.6H312.9" class="mt"/>
<path d="M310.3 295.55H312.9" class="mt"/>
<path d="M307.7 289.5H312.9" class="ax"/>
<text transform="translate(308.9 292.45) skewX(0.05)" class="tk" text-anchor="end">2100</text>
<path d="M312.2 422.8H512.9" class="ax"/>
<path d="M312.9 422.8V427.1" class="ax"/>
<text transform="translate(313.4 437.15) skewX(0.05)" class="tkx" text-anchor="middle">0</text>
<path d="M332.83 422.8V427.1" class="ax"/>
<text transform="translate(333.33 437.15) skewX(0.05)" class="tkx" text-anchor="middle">10</text>
<path d="M352.76 422.8V427.1" class="ax"/>
<text transform="translate(353.26 437.15) skewX(0.05)" class="tkx" text-anchor="middle">20</text>
<path d="M372.69 422.8V427.1" class="ax"/>
<text transform="translate(373.19 437.15) skewX(0.05)" class="tkx" text-anchor="middle">30</text>
<path d="M392.62 422.8V427.1" class="ax"/>
<text transform="translate(393.12 437.15) skewX(0.05)" class="tkx" text-anchor="middle">40</text>
<path d="M412.55 422.8V427.1" class="ax"/>
<text transform="translate(413.05 437.15) skewX(0.05)" class="tkx" text-anchor="middle">50</text>
<path d="M432.48 422.8V427.1" class="ax"/>
<text transform="translate(432.98 437.15) skewX(0.05)" class="tkx" text-anchor="middle">60</text>
<path d="M452.41 422.8V427.1" class="ax"/>
<text transform="translate(452.91 437.15) skewX(0.05)" class="tkx" text-anchor="middle">70</text>
<path d="M472.34 422.8V427.1" class="ax"/>
<text transform="translate(472.84 437.15) skewX(0.05)" class="tkx" text-anchor="middle">80</text>
<path d="M492.27 422.8V427.1" class="ax"/>
<text transform="translate(492.77 437.15) skewX(0.05)" class="tkx" text-anchor="middle">90</text>
<path d="M512.2 422.8V427.1" class="ax"/>
<text transform="translate(512.7 437.15) skewX(0.05)" class="tkx" text-anchor="middle">100</text>
<text transform="translate(413.1 451.6) skewX(0.05)" class="al" text-anchor="middle">Days after treatment</text>
<text transform="translate(280.1 356) rotate(-90)" class="al" text-anchor="middle">% Initial Tumor Volume</text>
<path d="M312.9 409.85L316.89 396.85L320.87 390.86L326.85 366.67L330.84 368.72L336.82 359.77L340.8 356.93" fill="none" stroke="#111" stroke-width="1.45"/>
<path d="M316.89 394.73V398.96M315.69 394.73h2.4M315.69 398.96h2.4" class="eb"/>
<path d="M320.87 387.83V393.88M319.67 387.83h2.4M319.67 393.88h2.4" class="eb"/>
<path d="M326.85 353.06V380.27M325.65 353.06h2.4M325.65 380.27h2.4" class="eb"/>
<path d="M330.84 358.44V379M329.64 358.44h2.4M329.64 379h2.4" class="eb"/>
<path d="M336.82 346.17V373.38M335.62 346.17h2.4M335.62 373.38h2.4" class="eb"/>
<path d="M340.8 342.11V371.75M339.6 342.11h2.4M339.6 371.75h2.4" class="eb"/>
<circle cx="312.9" cy="409.85" r="2.15" fill="#111"/>
<circle cx="316.89" cy="396.85" r="2.15" fill="#111"/>
<circle cx="320.87" cy="390.86" r="2.15" fill="#111"/>
<circle cx="326.85" cy="366.67" r="2.15" fill="#111"/>
<circle cx="330.84" cy="368.72" r="2.15" fill="#111"/>
<circle cx="336.82" cy="359.77" r="2.15" fill="#111"/>
<circle cx="340.8" cy="356.93" r="2.15" fill="#111"/>
<path d="M312.9 410.45L316.89 406.52L322.87 408.52L326.85 408.94L330.84 410.82L336.82 415.9L340.8 416.2L344.79 416.2L350.77 414.87L356.75 413.48L366.71 411.9L372.69 409.24L378.67 406.82L406.57 405.86L420.52 402.11L434.47 399.63L512.2 399.63" fill="none" stroke="#111" stroke-width="2.3"/>
<path d="M316.89 402.89V410.15M315.69 402.89h2.4M315.69 410.15h2.4" class="eb"/>
<path d="M322.87 404.89V412.15M321.67 404.89h2.4M321.67 412.15h2.4" class="eb"/>
<path d="M326.85 405.31V412.57M325.65 405.31h2.4M325.65 412.57h2.4" class="eb"/>
<path d="M330.84 407.79V413.84M329.64 407.79h2.4M329.64 413.84h2.4" class="eb"/>
<path d="M366.71 407.67V416.14M365.51 407.67h2.4M365.51 416.14h2.4" class="eb"/>
<path d="M372.69 401.99V416.5M371.49 401.99h2.4M371.49 416.5h2.4" class="eb"/>
<path d="M378.67 397.15V416.5M377.47 397.15h2.4M377.47 416.5h2.4" class="eb"/>
<path d="M406.57 395.88V415.83M405.37 395.88h2.4M405.37 415.83h2.4" class="eb"/>
<path d="M420.52 392.13V412.09M419.32 392.13h2.4M419.32 412.09h2.4" class="eb"/>
<path d="M434.47 389.65V409.61M433.27 389.65h2.4M433.27 409.61h2.4" class="eb"/>
<path d="M512.2 389.65V409.61M511 389.65h2.4M511 409.61h2.4" class="eb"/>
<rect x="311.05" y="408.6" width="3.7" height="3.7" fill="#fff" stroke="#111" stroke-width="1.0"/>
<rect x="315.04" y="404.67" width="3.7" height="3.7" fill="#fff" stroke="#111" stroke-width="1.0"/>
<rect x="321.01" y="406.67" width="3.7" height="3.7" fill="#fff" stroke="#111" stroke-width="1.0"/>
<rect x="325" y="407.09" width="3.7" height="3.7" fill="#fff" stroke="#111" stroke-width="1.0"/>
<rect x="328.99" y="408.97" width="3.7" height="3.7" fill="#fff" stroke="#111" stroke-width="1.0"/>
<rect x="334.97" y="414.05" width="3.7" height="3.7" fill="#fff" stroke="#111" stroke-width="1.0"/>
<rect x="338.95" y="414.35" width="3.7" height="3.7" fill="#fff" stroke="#111" stroke-width="1.0"/>
<rect x="342.94" y="414.35" width="3.7" height="3.7" fill="#fff" stroke="#111" stroke-width="1.0"/>
<rect x="348.92" y="413.02" width="3.7" height="3.7" fill="#fff" stroke="#111" stroke-width="1.0"/>
<rect x="354.9" y="411.63" width="3.7" height="3.7" fill="#fff" stroke="#111" stroke-width="1.0"/>
<rect x="364.86" y="410.05" width="3.7" height="3.7" fill="#fff" stroke="#111" stroke-width="1.0"/>
<rect x="370.84" y="407.39" width="3.7" height="3.7" fill="#fff" stroke="#111" stroke-width="1.0"/>
<rect x="376.82" y="404.97" width="3.7" height="3.7" fill="#fff" stroke="#111" stroke-width="1.0"/>
<rect x="404.72" y="404.01" width="3.7" height="3.7" fill="#fff" stroke="#111" stroke-width="1.0"/>
<rect x="418.67" y="400.26" width="3.7" height="3.7" fill="#fff" stroke="#111" stroke-width="1.0"/>
<rect x="432.62" y="397.78" width="3.7" height="3.7" fill="#fff" stroke="#111" stroke-width="1.0"/>
<rect x="510.35" y="397.78" width="3.7" height="3.7" fill="#fff" stroke="#111" stroke-width="1.0"/>
<path d="M312.9 410.45L316.89 410.45L322.87 410.15L326.85 413.17L330.84 414.69L336.82 416.5L340.8 416.5L344.79 416.5L350.77 416.5L356.75 416.5L462.38 416.5" fill="none" stroke="#111" stroke-width="1.5" stroke-dasharray="4.8 2.1"/>
<rect x="310.7" y="408.25" width="4.4" height="4.4" fill="#111"/>
<rect x="314.69" y="408.25" width="4.4" height="4.4" fill="#111"/>
<rect x="320.67" y="407.95" width="4.4" height="4.4" fill="#111"/>
<rect x="324.65" y="410.97" width="4.4" height="4.4" fill="#111"/>
<rect x="328.64" y="412.49" width="4.4" height="4.4" fill="#111"/>
<rect x="334.62" y="414.3" width="4.4" height="4.4" fill="#111"/>
<rect x="338.6" y="414.3" width="4.4" height="4.4" fill="#111"/>
<rect x="342.59" y="414.3" width="4.4" height="4.4" fill="#111"/>
<rect x="348.57" y="414.3" width="4.4" height="4.4" fill="#111"/>
<rect x="354.55" y="414.3" width="4.4" height="4.4" fill="#111"/>
<rect x="460.18" y="414.3" width="4.4" height="4.4" fill="#111"/>
<path d="M312.9 410.27L316.89 410.57L322.87 409.91L326.85 413.23L330.84 414.63L336.82 416.5L340.8 416.5L344.79 416.5L386.64 416.5L470.35 416.5L512.2 416.5" fill="none" stroke="#111" stroke-width="1.7" stroke-dasharray="2.5 1.3"/>
<circle cx="312.9" cy="410.27" r="1.9" fill="#fff" stroke="#111" stroke-width="1.0"/>
<circle cx="316.89" cy="410.57" r="1.9" fill="#fff" stroke="#111" stroke-width="1.0"/>
<circle cx="322.87" cy="409.91" r="1.9" fill="#fff" stroke="#111" stroke-width="1.0"/>
<circle cx="326.85" cy="413.23" r="1.9" fill="#fff" stroke="#111" stroke-width="1.0"/>
<circle cx="330.84" cy="414.63" r="1.9" fill="#fff" stroke="#111" stroke-width="1.0"/>
<circle cx="336.82" cy="416.5" r="1.9" fill="#fff" stroke="#111" stroke-width="1.0"/>
<circle cx="340.8" cy="416.5" r="1.9" fill="#fff" stroke="#111" stroke-width="1.0"/>
<circle cx="344.79" cy="416.5" r="1.9" fill="#fff" stroke="#111" stroke-width="1.0"/>
<circle cx="386.64" cy="416.5" r="1.9" fill="#fff" stroke="#111" stroke-width="1.0"/>
<circle cx="470.35" cy="416.5" r="1.9" fill="#fff" stroke="#111" stroke-width="1.0"/>
<circle cx="512.2" cy="416.5" r="1.9" fill="#fff" stroke="#111" stroke-width="1.0"/>
<text transform="translate(346 367) skewX(0.05)" class="an">untreated</text>
<text transform="translate(468.3 328.9) skewX(0.05)" class="an" text-anchor="middle">800 μCi</text>
<text transform="translate(468.7 338.4) skewX(0.05)" class="an" text-anchor="middle">(open circle)</text>
<text transform="translate(428 357.5) skewX(0.05)" class="an" text-anchor="middle">600 μCi</text>
<text transform="translate(428.3 366.8) skewX(0.05)" class="an" text-anchor="middle">(closed square)</text>
<text transform="translate(485 367.7) skewX(0.05)" class="an">400 μCi</text>
<path d="M464.5 341.5L469.79 408.02" stroke="#111" stroke-width="1.05" fill="none"/>
<path d="M470.3 414.5L467.59 408.19L471.98 407.85Z" fill="#111"/>
<path d="M431.7 369.5L460.25 409.99" stroke="#111" stroke-width="1.05" fill="none"/>
<path d="M464 415.3L458.46 411.26L462.05 408.72Z" fill="#111"/>
<path d="M501 370.5L508.58 391.39" stroke="#111" stroke-width="1.05" fill="none"/>
<path d="M510.8 397.5L506.51 392.14L510.65 390.64Z" fill="#111"/>
<text transform="translate(271.4 17) skewX(0.05)" class="main" text-anchor="middle">Raji</text>
<text transform="translate(-0.4 38.9) skewX(0.05)" class="pl">A</text>
<text transform="translate(265.9 39.2) skewX(0.05)" class="pl">B</text>
<text transform="translate(-1.4 260.3) skewX(0.05)" class="pl">C</text>
<text transform="translate(265.4 259.8) skewX(0.05)" class="pl">D</text>
<text transform="translate(102.8 38.3) skewX(0.05)" class="ta" textLength="10" lengthAdjust="spacingAndGlyphs">α</text>
<text transform="translate(112.5 38.3) skewX(0.05)" class="tt">CD20 PRIT</text>
<text transform="translate(140.4 52.3) skewX(0.05)" class="tt" text-anchor="middle">(1F5)</text>
<text transform="translate(361.7 39.1) skewX(0.05)" class="ta" textLength="10" lengthAdjust="spacingAndGlyphs">α</text>
<text transform="translate(371.9 39.1) skewX(0.05)" class="tt" style="font-size:12.3px">HLA-DR PRIT</text>
<text transform="translate(406.5 55) skewX(0.05)" class="tt" text-anchor="middle">(Lym-1)</text>
<text transform="translate(103.8 260.55) skewX(0.05)" class="ta" textLength="10" lengthAdjust="spacingAndGlyphs">α</text>
<text transform="translate(113.95 260.55) skewX(0.05)" class="tt" style="font-size:12.75px">CD22 PRIT</text>
<text transform="translate(141.5 275.1) skewX(0.05)" class="tt" text-anchor="middle">(HD39)</text>
<text transform="translate(411 273.6) skewX(0.05)" class="tt" text-anchor="middle">PRIT Combo</text>
</svg>
</body>
</html>
